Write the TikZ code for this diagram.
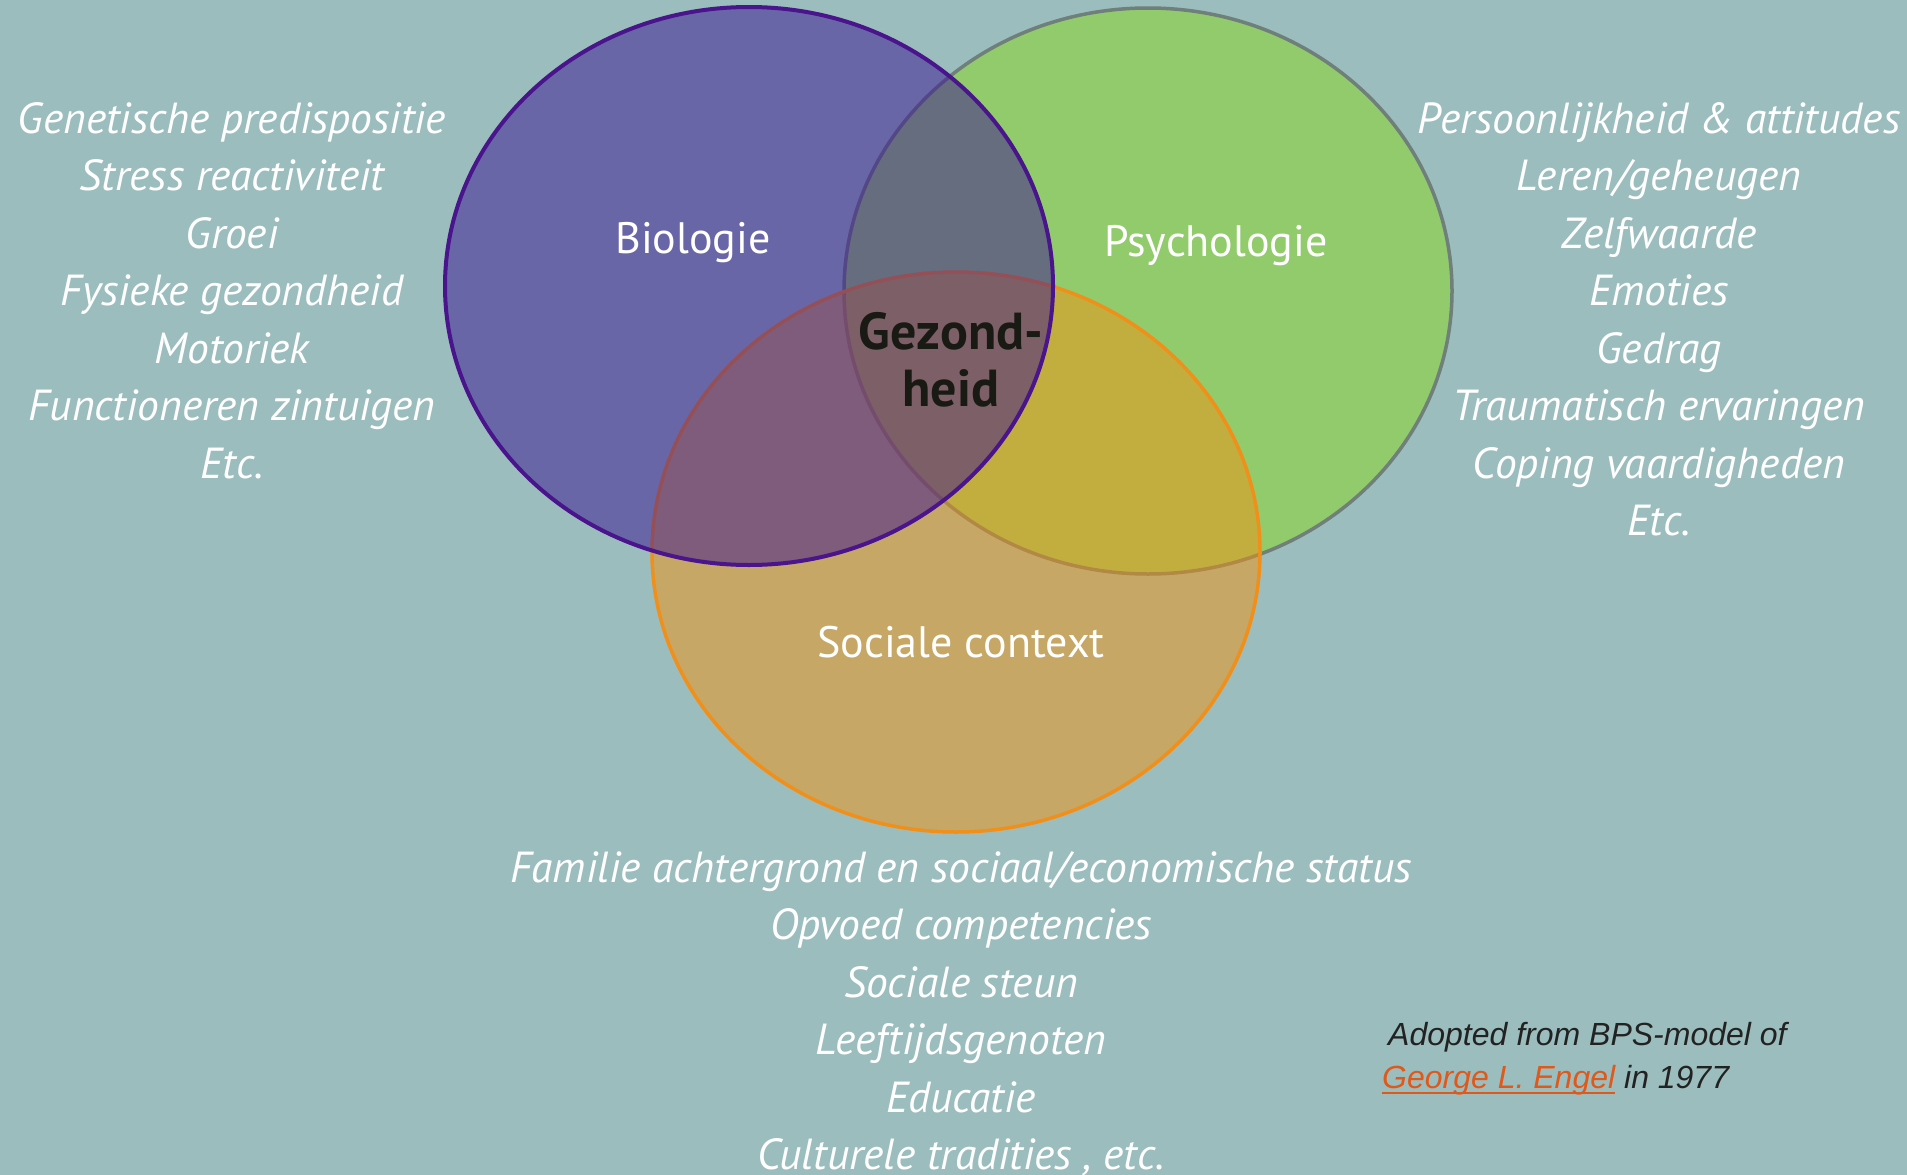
\documentclass[tikz,border=0pt]{standalone}
\usepackage{fontspec}
\setmainfont{PT Sans}
\newfontfamily\notefont{Liberation Sans}
\definecolor{bgc}{HTML}{9BBDBD}
\definecolor{biofill}{HTML}{391193}
\definecolor{biostroke}{HTML}{4A148C}
\definecolor{psyfill}{HTML}{92CB6C}
\definecolor{psystroke}{HTML}{6F7F7A}
\definecolor{socfill}{HTML}{F39311}
\definecolor{socstroke}{HTML}{F0901A}
\definecolor{centertext}{HTML}{1A1A14}
\definecolor{notetext}{HTML}{222222}
\definecolor{linkc}{HTML}{E0581A}
\tikzset{
  listtext/.style={text=white, font=\fontsize{43.5}{50}\selectfont\itshape, anchor=base, inner sep=0pt},
  circlabel/.style={text=white, font=\fontsize{44}{50}\selectfont, anchor=base, inner sep=0pt},
  centerlabel/.style={text=centertext, font=\fontsize{52}{60}\selectfont\bfseries, anchor=base, inner sep=0pt},
  notestyle/.style={text=notetext, font=\notefont\fontsize{32}{38}\selectfont\itshape, anchor=base west, inner sep=0pt},
}
\begin{document}
\begin{tikzpicture}[x=1pt,y=-1pt]
\fill[bgc] (0,0) rectangle (1907,1175);
\useasboundingbox (0,0) rectangle (1907,1175);
% circles
\fill[psyfill] (1148,291) ellipse [x radius=304, y radius=283];
\draw[psystroke, line width=3.5pt] (1148,291) ellipse [x radius=304, y radius=283];
\fill[socfill, fill opacity=0.5] (956,552) ellipse [x radius=304, y radius=280];
\draw[socstroke, line width=3.5pt] (956,552) ellipse [x radius=304, y radius=280];
\fill[biofill, fill opacity=0.5] (749,286) ellipse [x radius=304, y radius=279];
\draw[biostroke, line width=4pt] (749,286) ellipse [x radius=304, y radius=279];
% labels
\node[circlabel] (bio) at (693,253) {Biologie};
\node[circlabel] (psy) at (1216,256) {Psychologie};
\node[circlabel] (soc) at (961,657) {Sociale context};
\node[centerlabel] (gz1) at (951,349) {Gezond-};
\node[centerlabel] (gz2) at (951,406) {heid};
% left list
\foreach \t [count=\i] in {Genetische predispositie, Stress reactiviteit, Groei, Fysieke gezondheid, Motoriek, Functioneren zintuigen, Etc.}
  \node[listtext] (left\i) at (232,{133+57.5*(\i-1)}) {\t};
% right list
\foreach \t [count=\i] in {Persoonlijkheid \& attitudes, Leren/geheugen, Zelfwaarde, Emoties, Gedrag, Traumatisch ervaringen, Coping vaardigheden, Etc.}
  \node[listtext] (right\i) at (1659,{133+57.5*(\i-1)}) {\t};
% bottom list
\foreach \t [count=\i] in {Familie achtergrond en sociaal/economische status, Opvoed competencies, Sociale steun, Leeftijdsgenoten, Educatie, {Culturele tradities , etc.}}
  \node[listtext] (bot\i) at (961,{882+57.5*(\i-1)}) {\t};
% note
\node[notestyle] (note1) at (1388,1045) {Adopted from BPS-model of};
\node[notestyle] (note2) at (1382,1088) {\textcolor{linkc}{George L. Engel} in 1977};
\draw[linkc, line width=2.2pt] ([yshift=-5pt]note2.base west) -- ++(233,0);
\end{tikzpicture}
\end{document}
